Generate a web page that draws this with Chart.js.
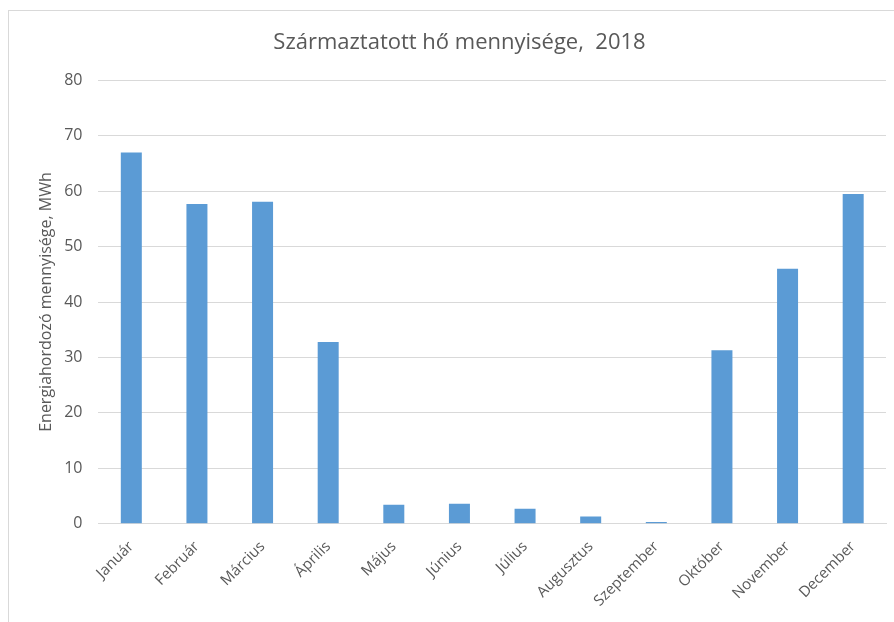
<!DOCTYPE html>
<html>
<head>
<meta charset="utf-8">
<script src="https://cdn.jsdelivr.net/npm/chart.js@4"></script>
<style>
  html, body { margin: 0; padding: 0; background: #fff; overflow: hidden; }
  #frame {
    position: absolute; left: 8px; top: 10px; width: 1000px; height: 700px;
    border-left: 1px solid #d9d9d9; border-top: 1px solid #d9d9d9;
  }
  #chart { position: absolute; left: 0; top: 0; }
</style>
</head>
<body>
<div id="frame"></div>
<canvas id="chart" width="894" height="622"></canvas>
<script>
var months = ['Január', 'Február', 'Március', 'Április', 'Május', 'Június',
  'Július', 'Augusztus', 'Szeptember', 'Október', 'November', 'December'];
var heat = [67.0, 57.7, 58.1, 32.8, 3.4, 3.6, 2.7, 1.3, 0.3, 31.3, 46.0, 59.5];

var yMin = 0, yMax = 80, yStep = 10;

Chart.defaults.font.family = '"Open Sans", sans-serif';
Chart.defaults.color = '#595959';

new Chart(document.getElementById('chart'), {
  type: 'bar',
  data: {
    labels: months,
    datasets: [{
      label: 'Származtatott hő',
      data: heat,
      backgroundColor: '#5b9bd5',
      barPercentage: 0.64,
      categoryPercentage: 0.5
    }]
  },
  options: {
    responsive: false,
    animation: false,
    layout: { padding: { left: 33, right: 8, top: 14, bottom: 6 } },
    plugins: {
      legend: { display: false },
      tooltip: { enabled: false },
      title: {
        display: true,
        text: 'Származtatott hő mennyisége,  2018',
        font: { size: 22, weight: 'normal' },
        color: '#595959',
        padding: { top: 16, bottom: 24 }
      }
    },
    scales: {
      x: {
        grid: { display: false },
        border: { color: '#d9d9d9' },
        ticks: {
          font: { size: 15 },
          maxRotation: 45,
          minRotation: 45,
          padding: 6
        }
      },
      y: {
        min: yMin,
        max: yMax,
        ticks: { stepSize: yStep, font: { size: 16 }, padding: 16 },
        grid: { color: '#d9d9d9', drawTicks: false },
        border: { display: false },
        title: {
          display: true,
          text: 'Energiahordozó mennyisége, MWh',
          font: { size: 16 },
          color: '#595959',
          padding: { top: 4, bottom: -8 }
        }
      }
    }
  }
});
</script>
</body>
</html>
